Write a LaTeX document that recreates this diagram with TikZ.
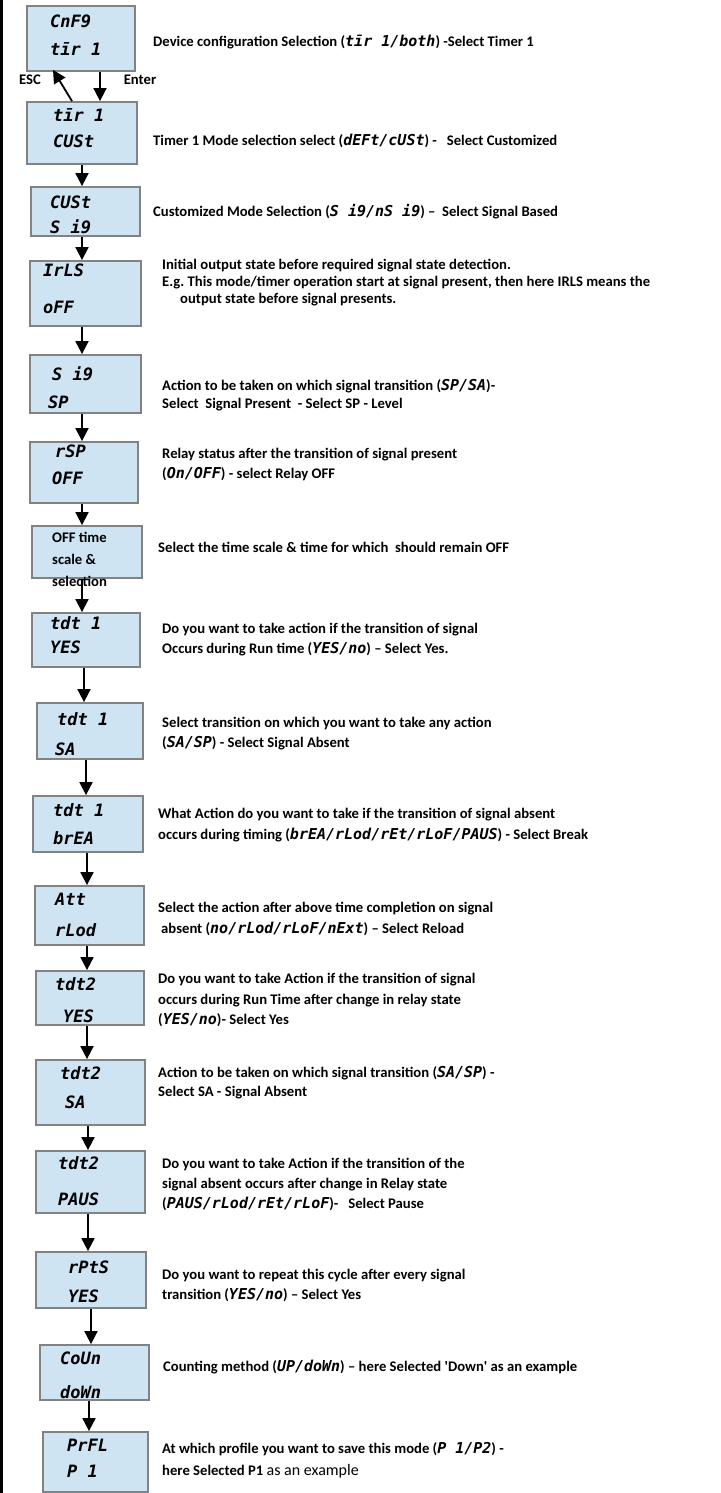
\documentclass[tikz,border=0pt]{standalone}
\usepackage{fontspec}
\setmainfont{Carlito}
\newfontfamily\segf{DejaVu Sans Mono}
\usetikzlibrary{arrows.meta}
\definecolor{boxblue}{RGB}{207,228,243}
\definecolor{boxline}{RGB}{130,130,130}
\newcommand\sgt[1]{{\segf\bfseries\itshape\fontsize{15}{18}\selectfont #1}}
\newcommand\varr[4]{\draw[arr] ([xshift=#3pt]#1.south) -- ([xshift=#4pt]#2.north);}
\frenchspacing
\begin{document}
\begin{tikzpicture}[x=1pt,y=-1pt,
 dbox/.style={draw=boxline,fill=boxblue,line width=1.8pt,inner sep=0pt,rectangle},
 dtxt/.style={anchor=base west,inner sep=0pt,font=\segf\bfseries\itshape\fontsize{17}{20}\selectfont},
 desc/.style={anchor=base west,inner sep=0pt,font=\bfseries\fontsize{14.67}{20}\selectfont},
 arr/.style={line width=1.8pt,-{Triangle[width=13pt,length=13pt]}},
]
\useasboundingbox (0,0) rectangle (720,1493);
\draw[line width=2.5pt] (1.25,0) -- (1.25,1493);

% boxes
\node[dbox,minimum width=108pt,minimum height=65pt] (b1) at (81,38.5) {};
\node[dbox,minimum width=110pt,minimum height=62pt] (b2) at (82,133) {};
\node[dbox,minimum width=109pt,minimum height=49pt] (b3) at (85.5,211.5) {};
\node[dbox,minimum width=111pt,minimum height=65pt] (b4) at (85.5,293.5) {};
\node[dbox,minimum width=111pt,minimum height=58pt] (b5) at (85.5,384) {};
\node[dbox,minimum width=108pt,minimum height=61pt] (b6) at (84,472.5) {};
\node[dbox,minimum width=110pt,minimum height=52pt] (b7) at (87,552) {};
\node[dbox,minimum width=108pt,minimum height=54pt] (b8) at (86,640) {};
\node[dbox,minimum width=106pt,minimum height=56pt] (b9) at (90,731) {};
\node[dbox,minimum width=110pt,minimum height=56pt] (b10) at (88,824) {};
\node[dbox,minimum width=109pt,minimum height=59pt] (b11) at (89.5,915.5) {};
\node[dbox,minimum width=108pt,minimum height=54pt] (b12) at (90,998) {};
\node[dbox,minimum width=109pt,minimum height=65pt] (b13) at (90.5,1092.5) {};
\node[dbox,minimum width=109pt,minimum height=62pt] (b14) at (90.5,1182) {};
\node[dbox,minimum width=110pt,minimum height=56pt] (b15) at (91,1280) {};
\node[dbox,minimum width=109pt,minimum height=55pt] (b16) at (94.5,1372.5) {};
\node[dbox,minimum width=105pt,minimum height=60pt] (b17) at (95.5,1462) {};

% box texts
\node[dtxt] (t1a) at (50,28) {CnF9};
\node[dtxt] (t1b) at (50,56) {tīr 1};
\node[dtxt] (t2a) at (53,122) {tīr 1};
\node[dtxt] (t2b) at (53,147) {CUSt};
\node[dtxt] (t3a) at (50,208) {CUSt};
\node[dtxt] (t3b) at (50,233) {S i9};
\node[dtxt] (t4a) at (43,276) {IrLS};
\node[dtxt] (t4b) at (43,313) {oFF};
\node[dtxt] (t5a) at (52,380) {S i9};
\node[dtxt] (t5b) at (48,408) {SP};
\node[dtxt] (t6a) at (55,457) {rSP};
\node[dtxt] (t6b) at (52,484) {OFF};
\node[desc] (t7a) at (52,542) {OFF time};
\node[desc] (t7b) at (52,564) {scale \&};
\node[desc] (t7c) at (52,586) {selection};
\node[dtxt] (t8a) at (50,629) {tdt 1};
\node[dtxt] (t8b) at (50,653) {YES};
\node[dtxt] (t9a) at (57,725) {tdt 1};
\node[dtxt] (t9b) at (55,755) {SA};
\node[dtxt] (t10a) at (53,816) {tdt 1};
\node[dtxt] (t10b) at (53,844) {brEA};
\node[dtxt] (t11a) at (55,905) {Att};
\node[dtxt] (t11b) at (55,936) {rLod};
\node[dtxt] (t12a) at (55,990) {tdt2};
\node[dtxt] (t12b) at (63,1022) {YES};
\node[dtxt] (t13a) at (60,1079) {tdt2};
\node[dtxt] (t13b) at (65,1108) {SA};
\node[dtxt] (t14a) at (58,1169) {tdt2};
\node[dtxt] (t14b) at (58,1205) {PAUS};
\node[dtxt] (t15a) at (68,1273) {rPtS};
\node[dtxt] (t15b) at (68,1302) {YES};
\node[dtxt] (t16a) at (60,1364) {CoUn};
\node[dtxt] (t16b) at (60,1398) {doWn};
\node[dtxt] (t17a) at (67,1451) {PrFL};
\node[dtxt] (t17b) at (67,1477) {P 1};

% ESC / Enter
\node[desc,anchor=center] (esc) at (30,80) {ESC};
\node[desc,anchor=center] (ent) at (140,80) {Enter};
\draw[arr] ([xshift=19pt]b1.south) -- ([xshift=18pt]b2.north);
\draw[arr] ([xshift=-10pt]b2.north) -- ([xshift=-28pt,yshift=2pt]b1.south);

% arrows
\varr{b2}{b3}{0}{-3.5}
\varr{b3}{b4}{-3.5}{-3.5}
\varr{b4}{b5}{-3.5}{-3.5}
\varr{b5}{b6}{-3.5}{-2}
\varr{b6}{b7}{-2}{-5}
\varr{b7}{b8}{-5}{-4}
\varr{b8}{b9}{-2}{-6}
\varr{b9}{b10}{-4}{-2}
\varr{b10}{b11}{-1}{-2.5}
\varr{b11}{b12}{-2.5}{-3}
\varr{b12}{b13}{-3}{-3.5}
\varr{b13}{b14}{-2.5}{-2.5}
\varr{b14}{b15}{-2.5}{-3}
\varr{b15}{b16}{0}{-3.5}
\varr{b16}{b17}{-5.5}{-6.5}

% descriptions
\node[desc] (d1) at (153,46.5) {Device configuration Selection (\sgt{tīr 1/both}) -Select Timer 1};
\node[desc] (d2) at (153,146) {Timer 1 Mode selection select (\sgt{dEFt/cUSt}) -\ \ \ Select Customized};
\node[desc] (d3) at (153,216) {Customized Mode Selection (\sgt{S i9/nS i9}) –\ \ Select Signal Based};
\node[desc] (d4a) at (162,269) {Initial output state before required signal state detection.};
\node[desc] (d4b) at (162,286) {E.g. This mode/timer operation start at signal present, then here IRLS means the};
\node[desc] (d4c) at (180,303) {output state before signal presents.};
\node[desc] (d5a) at (162,390) {Action to be taken on which signal transition (\sgt{SP/SA})-};
\node[desc] (d5b) at (162,408) {Select\ \ Signal Present\ \ - Select SP - Level};
\node[desc] (d6a) at (162,458) {Relay status after the transition of signal present};
\node[desc] (d6b) at (162,478) {(\sgt{On/OFF}) - select Relay OFF};
\node[desc] (d7) at (158,552) {Select the time scale \& time for which\ \ should remain OFF};
\node[desc] (d8a) at (162,633) {Do you want to take action if the transition of signal};
\node[desc] (d8b) at (162,653) {Occurs during Run time (\sgt{YES/no}) – Select Yes.};
\node[desc] (d9a) at (162,727) {Select transition on which you want to take any action};
\node[desc] (d9b) at (162,747) {(\sgt{SA/SP}) - Select Signal Absent};
\node[desc] (d10a) at (158,818) {What Action do you want to take if the transition of signal absent};
\node[desc] (d10b) at (158,839) {occurs during timing (\sgt{brEA/rLod/rEt/rLoF/PAUS}) - Select Break};
\node[desc] (d11a) at (158,912) {Select the action after above time completion on signal};
\node[desc] (d11b) at (161,933) {absent (\sgt{no/rLod/rLoF/nExt}) – Select Reload};
\node[desc] (d12a) at (158,983) {Do you want to take Action if the transition of signal};
\node[desc] (d12b) at (158,1004) {occurs during Run Time after change in relay state};
\node[desc] (d12c) at (158,1024) {(\sgt{YES/no})- Select Yes};
\node[desc] (d13a) at (158,1077) {Action to be taken on which signal transition (\sgt{SA/SP}) -};
\node[desc] (d13b) at (158,1096) {Select SA - Signal Absent};
\node[desc] (d14a) at (162,1168) {Do you want to take Action if the transition of the};
\node[desc] (d14b) at (162,1188) {signal absent occurs after change in Relay state};
\node[desc] (d14c) at (162,1208) {(\sgt{PAUS/rLod/rEt/rLoF})-\ \ \ Select Pause};
\node[desc] (d15a) at (162,1279) {Do you want to repeat this cycle after every signal};
\node[desc] (d15b) at (162,1299) {transition (\sgt{YES/no}) – Select Yes};
\node[desc] (d16) at (163,1371) {Counting method (\sgt{UP/doWn}) – here Selected \textquotesingle Down\textquotesingle\ as an example};
\node[desc] (d17a) at (162,1453) {At which profile you want to save this mode (\sgt{P 1/P2}) -};
\node[desc] (d17b) at (162,1475) {here Selected P1 {\mdseries\fontsize{16}{20}\selectfont as an example}};
\end{tikzpicture}
\end{document}
